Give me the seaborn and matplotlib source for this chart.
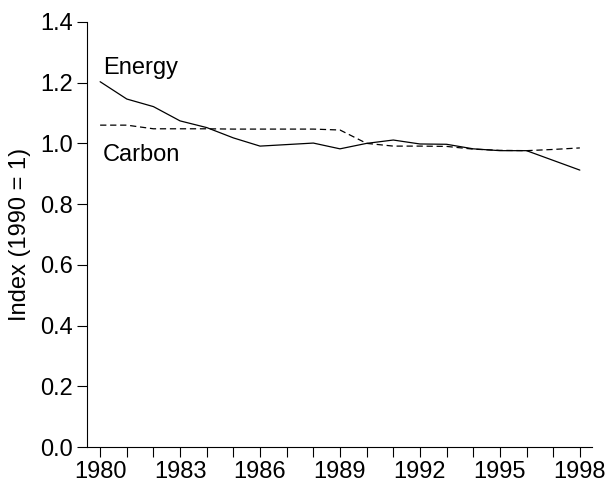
import matplotlib
matplotlib.use("Agg")
import matplotlib.pyplot as plt
import pandas as pd
import seaborn as sns

sns.set_style("ticks", {'text.color': 'black', 'axes.labelcolor': 'black',
                        'xtick.color': 'black', 'ytick.color': 'black',
                        'axes.edgecolor': 'black'})
plt.rcParams['font.family'] = ['Liberation Sans', 'DejaVu Sans']

# data
years = list(range(1980, 1999))
energy = [1.203, 1.146, 1.121, 1.074, 1.052, 1.018, 0.991, 0.996, 1.001, 0.982,
          1.000, 1.011, 0.998, 0.997, 0.982, 0.976, 0.976, 0.944, 0.912]
carbon = [1.060, 1.060, 1.048, 1.048, 1.048, 1.047, 1.047, 1.047, 1.047, 1.044,
          1.000, 0.991, 0.991, 0.990, 0.981, 0.977, 0.976, 0.980, 0.985]
tick_years = [1980, 1983, 1986, 1989, 1992, 1995, 1998]
y_ticks = [0.0, 0.2, 0.4, 0.6, 0.8, 1.0, 1.2, 1.4]

df = pd.DataFrame({'year': years * 2,
                   'index': energy + carbon,
                   'series': ['Energy'] * len(years) + ['Carbon'] * len(years)})

fs = 17
fig = plt.figure(figsize=(6.07, 4.86), dpi=100)
ax = fig.add_axes([0.143, 0.080, 0.832, 0.875])

sns.lineplot(data=df, x='year', y='index', style='series',
             dashes={'Energy': '', 'Carbon': (5, 3)},
             color='black', linewidth=0.9, legend=False, ax=ax)

ax.text(1980.1, 1.248, 'Energy', fontsize=fs, va='center', ha='left', color='black')
ax.text(1980.1, 0.962, 'Carbon', fontsize=fs, va='center', ha='left', color='black')

ax.set_xlim(1979.5, 1998.45)
ax.set_ylim(0, 1.4)
ax.set_xticks(years, minor=True)
ax.set_xticks(tick_years)
ax.set_xticklabels([str(y) for y in tick_years], fontsize=fs)
ax.set_yticks(y_ticks)
ax.set_yticklabels([f'{v:.1f}' for v in y_ticks], fontsize=fs)
ax.tick_params(axis='both', which='both', length=7, width=0.8, color='black',
               labelcolor='black', direction='out', pad=3)
ax.set_xlabel('')
ax.set_ylabel('Index (1990 = 1)', fontsize=fs, color='black')
ax.yaxis.set_label_coords(-0.11, 0.5)
sns.despine(ax=ax)
for s in ['left', 'bottom']:
    ax.spines[s].set_color('black')
    ax.spines[s].set_linewidth(0.8)

plt.savefig('out.png', dpi=100)
